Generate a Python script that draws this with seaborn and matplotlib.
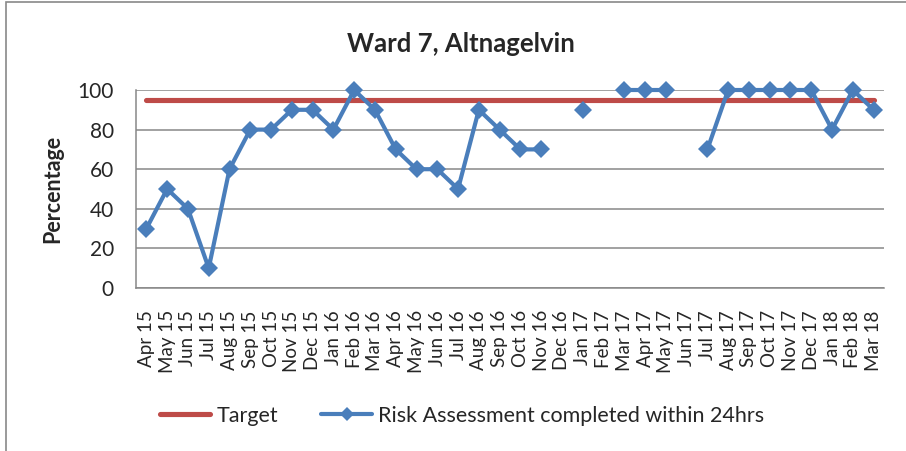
import numpy as np
import pandas as pd
import matplotlib
matplotlib.use("Agg")
import matplotlib.pyplot as plt
from matplotlib.lines import Line2D
from matplotlib.patches import Rectangle
import seaborn as sns

months = ["Apr 15", "May 15", "Jun 15", "Jul 15", "Aug 15", "Sep 15", "Oct 15", "Nov 15", "Dec 15",
          "Jan 16", "Feb 16", "Mar 16", "Apr 16", "May 16", "Jun 16", "Jul 16", "Aug 16", "Sep 16",
          "Oct 16", "Nov 16", "Dec 16", "Jan 17", "Feb 17", "Mar 17", "Apr 17", "May 17", "Jun 17",
          "Jul 17", "Aug 17", "Sep 17", "Oct 17", "Nov 17", "Dec 17", "Jan 18", "Feb 18", "Mar 18"]
risk = [30, 50, 40, 10, 60, 80, 80, 90, 90,
        80, 100, 90, 70, 60, 60, 50, 90, 80,
        70, 70, np.nan, 90, np.nan, 100, 100, 100, np.nan,
        70, 100, 100, 100, 100, 100, 80, 100, 90]
target = [95] * len(months)

BLUE = "#4A7EBB"
RED = "#BE4B48"
GRID = "#878787"

df = pd.DataFrame({"pos": np.arange(len(months)), "risk": risk, "target": target})
# split the series where values are missing so gaps stay as gaps
df["segment"] = df["risk"].isna().cumsum()
pts = df.dropna(subset=["risk"])

sns.set_style("white")
plt.rcParams["font.family"] = ["Lato", "DejaVu Sans"]

fig = plt.figure(figsize=(9.06, 4.51), dpi=100)
ax = fig.add_axes([136 / 906, 1 - 288 / 451, 748 / 906, 198 / 451])

sns.lineplot(data=df, x="pos", y="target", ax=ax, color=RED, linewidth=3.7,
             solid_capstyle="round", zorder=2)
sns.lineplot(data=pts, x="pos", y="risk", units="segment", estimator=None, ax=ax,
             color=BLUE, linewidth=3.0, marker="D", markersize=9, markeredgewidth=0,
             solid_capstyle="round", solid_joinstyle="round", zorder=3, clip_on=False)

ax.set_xlim(-0.5, len(months) - 0.5)
ax.set_ylim(0, 100)
ax.set_yticks([0, 20, 40, 60, 80, 100])
ax.set_xticks(np.arange(len(months)))
ax.set_xticklabels(months, rotation=90, fontsize=13.5)
ax.set_xticks(np.arange(len(months) + 1) - 0.5, minor=True)
ax.tick_params(axis="x", which="major", length=0, pad=16)
ax.tick_params(axis="x", which="minor", length=5, width=1, color=GRID, direction="out")
ax.tick_params(axis="y", length=6, width=1, color=GRID, direction="out", labelsize=15, pad=10)

ax.grid(axis="y", color=GRID, linewidth=1.1)
ax.set_axisbelow(True)
for s in ["top", "right"]:
    ax.spines[s].set_visible(False)
for s in ["left", "bottom"]:
    ax.spines[s].set_color(GRID)
    ax.spines[s].set_linewidth(1.1)

ax.set_xlabel("")
ax.set_ylabel("Percentage", fontsize=15.5, fontweight="bold", labelpad=10)

fig.text(461 / 906, 1 - 44 / 451, "Ward 7, Altnagelvin", ha="center", va="center",
         fontsize=18.5, fontweight="bold")

handles = [Line2D([], [], color=RED, linewidth=3.7, solid_capstyle="round"),
           Line2D([], [], color=BLUE, linewidth=3.0, marker="D", markersize=7,
                  markeredgewidth=0, solid_capstyle="round")]
fig.legend(handles, ["Target", "Risk Assessment completed within 24hrs"],
           loc="center", bbox_to_anchor=(462 / 906, 1 - 416 / 451), ncol=2, frameon=False,
           fontsize=15.5, handlelength=2.35, handletextpad=0.3, columnspacing=2.0)

# chart area border like the Excel frame
fig.patches.append(Rectangle((6 / 906, -0.1), 1.2, 1 - 2 / 451 + 0.1, transform=fig.transFigure,
                             fill=False, edgecolor="#898989", linewidth=1.2))

fig.savefig("out.png", dpi=100)
